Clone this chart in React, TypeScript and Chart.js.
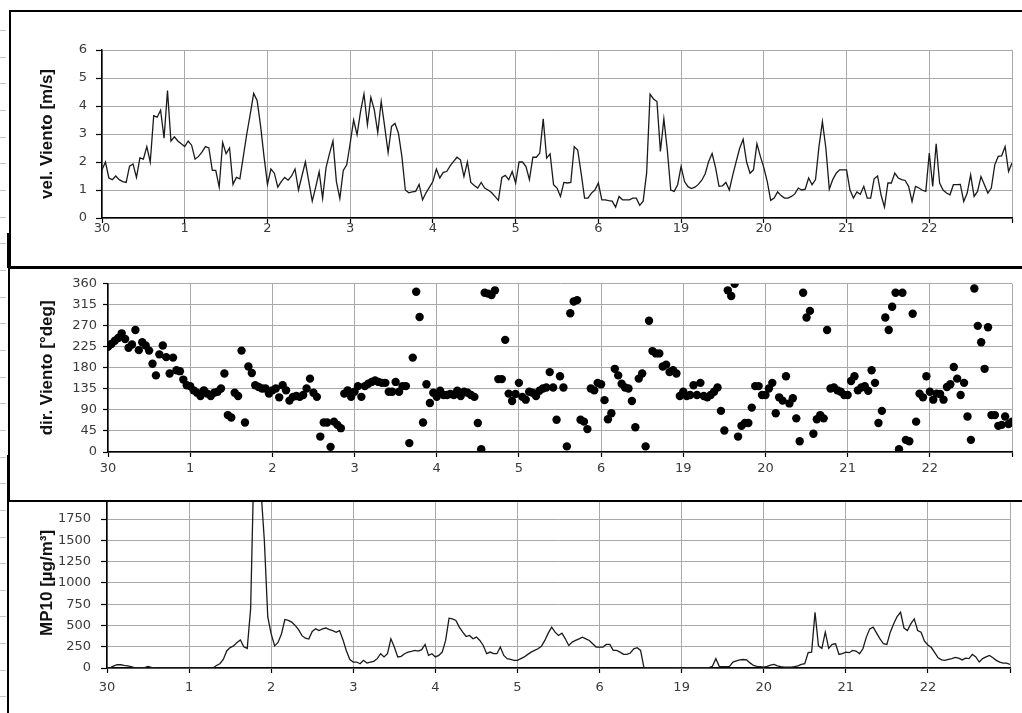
import React, { useEffect, useRef } from 'react';
import { Chart, registerables } from 'chart.js';

Chart.register(...registerables);

// ---- categories / tick labels ----
const dayLabels = ['30', '1', '2', '3', '4', '5', '6', '19', '20', '21', '22', ''];
const hoursPerDay = 24;
const velYTicks = [0, 1, 2, 3, 4, 5, 6];
const dirYTicks = [0, 45, 90, 135, 180, 225, 270, 315, 360];
const mp10YTicks = [0, 250, 500, 750, 1000, 1250, 1500, 1750];

// ---- series: hourly values (one row per day) ----
const velViento = [
  1.72, 2.0, 1.43, 1.37, 1.5, 1.37, 1.3, 1.27, 1.85, 1.93, 1.45, 2.15, 2.1, 2.55, 2.0, 3.65, 3.6, 3.85, 2.85, 4.55, 2.75, 2.9, 2.75, 2.65,
  2.55, 2.75, 2.6, 2.1, 2.2, 2.35, 2.55, 2.5, 1.7, 1.7, 1.1, 2.7, 2.3, 2.5, 1.2, 1.45, 1.4, 2.2, 3.0, 3.7, 4.45, 4.2, 3.3, 2.2,
  1.2, 1.75, 1.6, 1.1, 1.3, 1.45, 1.35, 1.5, 1.75, 1.0, 1.5, 2.0, 1.3, 0.6, 1.1, 1.65, 0.7, 1.8, 2.3, 2.75, 1.3, 0.7, 1.7, 1.9,
  2.67, 3.5, 2.97, 3.8, 4.43, 3.33, 4.31, 3.86, 3.05, 4.16, 3.27, 2.34, 3.27, 3.38, 3.03, 2.2, 1.0, 0.9, 0.93, 0.95, 1.2, 0.65, 0.9, 1.1,
  1.3, 1.75, 1.43, 1.63, 1.66, 1.86, 2.02, 2.17, 2.08, 1.48, 2.0, 1.27, 1.16, 1.07, 1.27, 1.07, 1.0, 0.91, 0.77, 0.63, 1.45, 1.52, 1.37, 1.66,
  1.25, 2.0, 2.0, 1.84, 1.37, 2.17, 2.17, 2.32, 3.54, 2.14, 2.29, 1.19, 1.07, 0.77, 1.27, 1.25, 1.27, 2.55, 2.43, 1.6, 0.71, 0.71, 0.89, 1.0,
  1.25, 0.65, 0.65, 0.62, 0.6, 0.39, 0.77, 0.65, 0.65, 0.65, 0.71, 0.71, 0.45, 0.6, 1.6, 4.42, 4.25, 4.16, 2.38, 3.54, 2.43, 1.0, 0.95, 1.19,
  1.84, 1.3, 1.12, 1.05, 1.1, 1.2, 1.35, 1.58, 2.02, 2.3, 1.8, 1.13, 1.15, 1.27, 1.0, 1.54, 2.02, 2.49, 2.81, 2.0, 1.6, 1.72, 2.65, 2.2,
  1.8, 1.3, 0.63, 0.71, 0.93, 0.8, 0.71, 0.71, 0.77, 0.86, 1.07, 1.0, 1.03, 1.43, 1.19, 1.37, 2.55, 3.44, 2.5, 1.03, 1.37, 1.6, 1.72, 1.72,
  1.72, 1.0, 0.71, 0.93, 0.85, 1.13, 0.71, 0.71, 1.4, 1.5, 0.83, 0.39, 1.25, 1.25, 1.6, 1.43, 1.37, 1.34, 1.13, 0.59, 1.13, 1.07, 0.99, 0.95,
  2.32, 1.13, 2.65, 1.25, 1.0, 0.89, 0.83, 1.19, 1.19, 1.2, 0.59, 0.89, 1.54, 0.77, 0.95, 1.48, 1.19, 0.89, 1.07, 1.9, 2.2, 2.22, 2.55, 1.66, 1.96,
];

const dirViento = [
  225, 231, 238, 244, 254, 242, 223, 230, 261, 218, 235, 228, 217, 189, 164, 209, 228, 203, 168, 202, 175, 173, 155, 143,
  141, 132, 127, 120, 132, 125, 120, 127, 129, 136, 168, 79, 74, 127, 120, 217, 63, 183, 169, 143, 139, 136, 136, 125,
  132, 136, 117, 143, 132, 110, 118, 120, 118, 122, 136, 157, 127, 118, 33, 63, 63, 11, 65, 58, 51, 125, 132, 118,
  129, 141, 118, 141, 146, 150, 153, 150, 148, 148, 129, 129, 150, 129, 141, 141, 19, 202, 343, 289, 63, 145, 105, 127,
  118, 131, 122, 122, 124, 122, 131, 120, 129, 127, 122, 118, 62, 6, 341, 339, 336, 346, 156, 156, 240, 125, 109, 124,
  148, 118, 112, 129, 127, 120, 131, 136, 138, 171, 138, 69, 162, 138, 12, 297, 322, 325, 69, 65, 49, 136, 132, 148,
  145, 111, 70, 83, 178, 164, 146, 138, 136, 109, 53, 157, 168, 12, 281, 216, 211, 211, 183, 187, 171, 175, 168, 120,
  129, 120, 122, 143, 122, 148, 120, 117, 122, 129, 138, 88, 46, 346, 334, 360, 33, 56, 62, 62, 95, 141, 141, 122,
  122, 136, 148, 83, 117, 110, 162, 104, 115, 72, 23, 341, 288, 302, 39, 70, 79, 72, 261, 136, 138, 132, 129, 122,
  122, 152, 162, 132, 138, 141, 131, 175, 148, 62, 88, 288, 261, 311, 341, 6, 341, 26, 23, 296, 65, 125, 117, 162,
  129, 112, 125, 124, 112, 139, 145, 182, 157, 122, 148, 76, 26, 350, 270, 235, 178, 267, 79, 79, 56, 58, 76, 60, 65,
];

const mp10 = [
  0, 5, 25, 40, 38, 30, 25, 15, 5, 3, 3, 5, 18, 8, 0, 0, 0, 0, 0, 0, 0, 0, 0, 0,
  0, 0, 0, 0, 0, 0, 0, 0, 30, 50, 100, 200, 240, 260, 300, 330, 250, 230, 700, 2500, 2400, 2100, 1500, 600,
  400, 260, 300, 400, 570, 560, 540, 500, 450, 380, 350, 340, 430, 460, 440, 460, 470, 450, 440, 420, 440, 330, 200, 100,
  70, 70, 50, 90, 58, 70, 78, 110, 168, 130, 168, 343, 246, 130, 137, 168, 187, 195, 207, 199, 215, 277, 148, 168,
  130, 148, 187, 324, 585, 577, 558, 480, 421, 370, 382, 343, 363, 324, 265, 168, 187, 168, 168, 246, 148, 110, 101, 90,
  90, 110, 130, 160, 187, 207, 226, 254, 324, 410, 480, 421, 382, 410, 343, 265, 304, 324, 343, 363, 343, 324, 285, 246,
  246, 246, 277, 277, 207, 207, 187, 160, 160, 176, 226, 238, 207, 0, 0, 0, 0, 0, 0, 0, 0, 0, 3, 5,
  5, 5, 5, 5, 5, 5, 5, 5, 5, 20, 110, 20, 15, 15, 20, 70, 85, 95, 100, 95, 60, 30, 20, 15,
  10, 20, 35, 43, 25, 15, 10, 10, 10, 15, 25, 43, 50, 180, 187, 655, 260, 230, 421, 230, 277, 285, 160, 168,
  187, 180, 207, 199, 168, 226, 363, 460, 480, 410, 343, 285, 277, 421, 519, 605, 655, 470, 440, 519, 577, 440, 421, 316,
  270, 240, 180, 120, 95, 90, 100, 110, 125, 115, 95, 115, 110, 160, 130, 70, 110, 130, 148, 121, 90, 70, 58, 58, 43,
];

// ---- styling ----
const TICK_FONT = { family: 'DejaVu Sans', size: 13 };
const TICK_COLOR = '#3a3a3a';
const GRID_COLOR = '#a9a9a9';
const TITLE_FONT = { family: 'Liberation Sans', size: 17, weight: 'bold' as const };

const toPoints = (arr: number[]) => arr.map((v, i) => ({ x: i, y: v }));

function xScale(labelPad: number) {
  return {
    type: 'linear' as const,
    min: 0,
    max: (dayLabels.length - 1) * hoursPerDay,
    afterBuildTicks: (ax: any) => {
      ax.ticks = dayLabels.map((_, i) => ({ value: i * hoursPerDay }));
    },
    afterFit: (ax: any) => {
      ax.height = 30;
    },
    ticks: {
      callback: (v: any) => dayLabels[Math.round(Number(v) / hoursPerDay)] ?? '',
      font: TICK_FONT,
      color: TICK_COLOR,
      padding: labelPad,
      maxRotation: 0,
      autoSkip: false,
    },
    grid: { color: GRID_COLOR, lineWidth: 1, tickLength: 5, tickColor: '#000', tickWidth: 1.2 },
    border: { color: '#000', width: 1.5 },
  };
}

function yScale(opts: {
  min: number;
  max: number;
  ticks: number[];
  width: number;
  tickLen: number;
  labelPad: number;
  title: string;
  titleCenterX: number;
}) {
  const lh = TITLE_FONT.size * 1.2;
  return {
    type: 'linear' as const,
    min: opts.min,
    max: opts.max,
    afterBuildTicks: (ax: any) => {
      ax.ticks = opts.ticks.map((v) => ({ value: v }));
    },
    afterFit: (ax: any) => {
      ax.width = opts.width;
    },
    ticks: {
      font: TICK_FONT,
      color: TICK_COLOR,
      padding: opts.labelPad,
      callback: (v: any) => String(v),
    },
    grid: { color: GRID_COLOR, lineWidth: 1, tickLength: opts.tickLen, tickColor: '#000', tickWidth: 1.2 },
    border: { color: '#000', width: 1.5 },
    title: {
      display: true,
      text: opts.title,
      font: TITLE_FONT,
      color: '#111',
      padding: { top: opts.titleCenterX - lh / 2, bottom: 0 },
    },
  };
}

const basePlugins = { legend: { display: false }, tooltip: { enabled: false } };

function velConfig(): any {
  return {
    type: 'line',
    data: {
      datasets: [
        {
          label: 'vel. Viento',
          data: toPoints(velViento),
          borderColor: '#1a1a1a',
          borderWidth: 1.3,
          pointRadius: 0,
          tension: 0,
          fill: false,
        },
      ],
    },
    options: {
      animation: false,
      responsive: false,
      devicePixelRatio: 1,
      layout: { padding: { left: 0, right: 10, top: 38, bottom: 14 } },
      plugins: basePlugins,
      scales: {
        x: xScale(-2),
        y: yScale({ min: 0, max: 6, ticks: velYTicks, width: 102, tickLen: 6, labelPad: 9, title: 'vel. Viento [m/s]', titleCenterX: 47 }),
      },
    },
  };
}

function dirConfig(): any {
  return {
    type: 'scatter',
    data: {
      datasets: [
        {
          label: 'dir. Viento',
          data: toPoints(dirViento),
          backgroundColor: '#000',
          borderColor: '#000',
          borderWidth: 0,
          pointRadius: 4.2,
          showLine: false,
        },
      ],
    },
    options: {
      animation: false,
      responsive: false,
      devicePixelRatio: 1,
      layout: { padding: { left: 0, right: 10, top: 13, bottom: 16 } },
      plugins: basePlugins,
      scales: {
        x: xScale(4),
        y: yScale({ min: 0, max: 360, ticks: dirYTicks, width: 108, tickLen: 5, labelPad: 6, title: 'dir. Viento [°deg]', titleCenterX: 47.5 }),
      },
    },
  };
}

function mp10Config(): any {
  return {
    type: 'line',
    data: {
      datasets: [
        {
          label: 'MP10',
          data: toPoints(mp10),
          borderColor: '#1a1a1a',
          borderWidth: 1.3,
          pointRadius: 0,
          tension: 0,
          fill: false,
        },
      ],
    },
    options: {
      animation: false,
      responsive: false,
      devicePixelRatio: 1,
      layout: { padding: { left: 0, right: 12, top: 17, bottom: 15 } },
      plugins: basePlugins,
      scales: {
        x: xScale(7),
        y: yScale({ min: 0, max: 2000, ticks: mp10YTicks, width: 107, tickLen: 6, labelPad: 10, title: 'MP10 [µg/m³]', titleCenterX: 47 }),
      },
    },
  };
}

const abs = (s: React.CSSProperties): React.CSSProperties => ({ position: 'absolute', ...s });

export default function App() {
  const velRef = useRef<HTMLCanvasElement>(null);
  const dirRef = useRef<HTMLCanvasElement>(null);
  const mpRef = useRef<HTMLCanvasElement>(null);

  useEffect(() => {
    const charts = [
      new Chart(velRef.current as HTMLCanvasElement, velConfig()),
      new Chart(dirRef.current as HTMLCanvasElement, dirConfig()),
      new Chart(mpRef.current as HTMLCanvasElement, mp10Config()),
    ];
    return () => charts.forEach((c) => c.destroy());
  }, []);

  const rulerMarks: React.ReactNode[] = [];
  for (let k = 1; k <= 26; k++) {
    rulerMarks.push(
      <div key={k} style={abs({ left: 0, top: Math.round(3.5 + 26.65 * k), width: 6, height: 1, background: '#c4c4c4' })} />
    );
  }

  return (
    <div style={abs({ left: 0, top: 0, width: 1022, height: 713, overflow: 'hidden', background: '#fff' })}>
      {rulerMarks}
      {/* bottom panel: MP10 */}
      <canvas ref={mpRef} width={1022} height={233} style={abs({ left: 0, top: 480, display: 'block' })} />
      <div style={abs({ left: 7, top: 500, width: 1040, height: 260, borderLeft: '2px solid #000', boxSizing: 'border-box' })} />
      {/* middle panel: direction */}
      <div style={abs({ left: 8, top: 267, width: 1040, height: 235, border: '2px solid #000', boxSizing: 'border-box', background: '#fff' })} />
      <canvas ref={dirRef} width={1022} height={228} style={abs({ left: 0, top: 270, display: 'block' })} />
      {/* top panel: speed */}
      <div style={abs({ left: 9, top: 10, width: 1040, height: 258, border: '2px solid #000', boxSizing: 'border-box', background: '#fff' })} />
      <canvas ref={velRef} width={1022} height={250} style={abs({ left: 0, top: 12, display: 'block' })} />
      {/* thick frame fragments on the left edge */}
      <div style={abs({ left: 7, top: 233, width: 4, height: 35, background: '#000' })} />
      <div style={abs({ left: 7, top: 455, width: 3, height: 47, background: '#000' })} />
    </div>
  );
}
